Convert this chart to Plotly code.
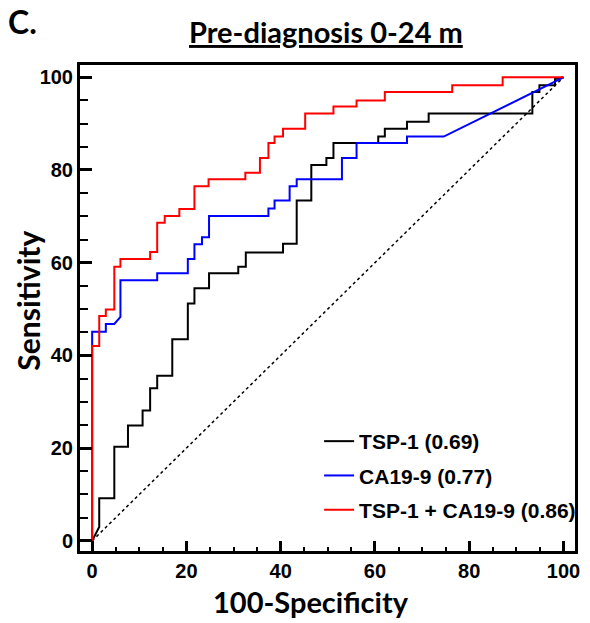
import plotly.graph_objects as go

# ROC threshold points (100-Specificity, Sensitivity)
tsp1_x = [0, 1.5, 1.5, 4.7, 4.7, 7.6, 7.6, 10.7, 10.7, 12.3, 12.3, 13.8, 13.8, 17.0, 17.0,
          20.3, 20.3, 21.7, 21.7, 24.8, 24.8, 31.0, 31.0, 32.6, 32.6, 40.5, 40.5, 43.4, 43.4,
          46.5, 46.5, 49.7, 49.7, 51.2, 51.2, 60.7, 60.7, 62.1, 62.1, 66.8, 66.8, 71.4, 71.4,
          93.4, 93.4, 94.9, 94.9, 98.2, 98.2, 100]
tsp1_y = [0, 3.0, 9.2, 9.2, 20.3, 20.3, 24.9, 24.9, 28.1, 28.1, 32.9, 32.9, 35.6, 35.6, 43.5,
          43.5, 51.2, 51.2, 54.5, 54.5, 57.7, 57.7, 59.1, 59.1, 62.2, 62.2, 64.1, 64.1, 73.4,
          73.4, 81.1, 81.1, 82.6, 82.6, 85.8, 85.8, 87.2, 87.2, 88.9, 88.9, 90.4, 90.4, 92.2,
          92.2, 96.8, 96.8, 98.3, 98.3, 99.6, 100]

ca199_x = [0, 0, 2.9, 2.9, 4.7, 6.0, 6.0, 13.8, 13.8, 20.3, 20.3, 21.7, 21.7, 23.3, 23.3,
           24.8, 24.8, 37.4, 37.4, 38.7, 38.7, 41.9, 41.9, 43.4, 43.4, 53.0, 53.0, 56.1, 56.1,
           66.8, 66.8, 74.6, 100]
ca199_y = [0, 45.1, 45.1, 46.8, 46.8, 48.3, 56.2, 56.2, 57.7, 57.7, 60.8, 60.8, 64.0, 64.0, 65.5,
           65.5, 70.1, 70.1, 71.7, 71.7, 73.4, 73.4, 76.5, 76.5, 78.0, 78.0, 82.6, 82.6, 85.8,
           85.8, 87.2, 87.2, 100]

combo_x = [0, 0, 1.5, 1.5, 2.9, 2.9, 4.7, 4.7, 6.0, 6.0, 12.3, 12.3, 13.8, 13.8, 15.4, 15.4,
           18.5, 18.5, 21.7, 21.7, 24.7, 24.7, 32.5, 32.5, 35.6, 35.6, 37.4, 37.4, 38.7, 38.7,
           40.5, 40.5, 45.2, 45.2, 51.2, 51.2, 56.1, 56.1, 62.1, 62.1, 76.4, 76.4, 87.1, 87.1, 100]
combo_y = [0, 42.0, 42.0, 48.5, 48.5, 49.9, 49.9, 59.1, 59.1, 60.8, 60.8, 62.3, 62.3, 68.6, 68.6,
           70.1, 70.1, 71.6, 71.6, 76.5, 76.5, 78.0, 78.0, 79.4, 79.4, 82.6, 82.6, 85.8, 85.8,
           87.2, 87.2, 88.9, 88.9, 92.2, 92.2, 93.7, 93.7, 95.0, 95.0, 96.8, 96.8, 98.3, 98.3,
           100, 100]

ref_x = [0, 100]
ref_y = [0, 100]

names = ["TSP-1 (0.69)", "CA19-9 (0.77)", "TSP-1 + CA19-9 (0.86)"]
colors = ["#000000", "#0000ff", "#ff0000"]
xticks = [0, 20, 40, 60, 80, 100]
yticks = [0, 20, 40, 60, 80, 100]

fig = go.Figure()
fig.add_trace(go.Scatter(x=ref_x, y=ref_y, mode="lines", showlegend=False, hoverinfo="skip",
                         line=dict(color="black", width=1.5, dash="dot")))
for i, (xs, ys) in enumerate([(tsp1_x, tsp1_y), (ca199_x, ca199_y), (combo_x, combo_y)]):
    fig.add_trace(go.Scatter(x=xs, y=ys, mode="lines", name=names[i], legendgroup=str(i),
                             line=dict(color=colors[i], width=2)))

L, R, T, B = 80, 9, 65, 72
W, H = 590, 623
pw, ph = W - L - R, H - T - B

def px2paper(px, py):
    return (px - L) / pw, (H - B - py) / ph

tick_font = dict(family="Liberation Sans", size=20, color="black", weight="bold")
axis_common = dict(showline=True, linewidth=3, linecolor="black", mirror=True,
                   showgrid=False, zeroline=False, ticks="inside", tickwidth=3,
                   tickcolor="black", tickfont=tick_font)

fig.update_xaxes(range=[-2.58, 102.45], tickvals=xticks, ticklen=10,
                 minor=dict(ticks="inside", dtick=5, tick0=0, ticklen=4.5, tickwidth=2,
                            tickcolor="black"), **axis_common)
fig.update_yaxes(range=[-2.2, 102.65], tickvals=yticks, ticklen=12,
                 minor=dict(ticks="inside", dtick=5, tick0=0, ticklen=7.5, tickwidth=2,
                            tickcolor="black"), **axis_common)

ann = []
x, y = px2paper(328.5, 32)
ann.append(dict(text="<u>Pre-diagnosis 0-24 m</u>", x=x, y=y, xref="paper", yref="paper",
                showarrow=False, xanchor="center", yanchor="middle",
                font=dict(family="Lato", size=29, color="black", weight="bold")))
x, y = px2paper(21.5, 22)
ann.append(dict(text="C.", x=x, y=y, xref="paper", yref="paper", showarrow=False,
                xanchor="center", yanchor="middle",
                font=dict(family="Lato", size=32, color="black", weight="bold")))
x, y = px2paper(314, 601)
ann.append(dict(text="100-Specificity", x=x, y=y, xref="paper", yref="paper", showarrow=False,
                xanchor="center", yanchor="middle",
                font=dict(family="Lato", size=29, color="black", weight="bold")))
x, y = px2paper(27, 301)
ann.append(dict(text="Sensitivity", x=x, y=y, xref="paper", yref="paper", showarrow=False,
                xanchor="center", yanchor="middle", textangle=-90,
                font=dict(family="Lato", size=30, color="black", weight="bold")))

lx, ly = px2paper(322, 421)
fig.update_layout(
    width=W, height=H, margin=dict(l=L, r=R, t=T, b=B),
    paper_bgcolor="white", plot_bgcolor="white",
    annotations=ann,
    showlegend=True,
    legend=dict(x=lx, y=ly, xanchor="left", yanchor="top", bgcolor="rgba(0,0,0,0)",
                font=dict(family="Liberation Sans", size=21, color="black", weight="bold"),
                tracegroupgap=4, itemwidth=30),
)

fig.write_html("out.html")
